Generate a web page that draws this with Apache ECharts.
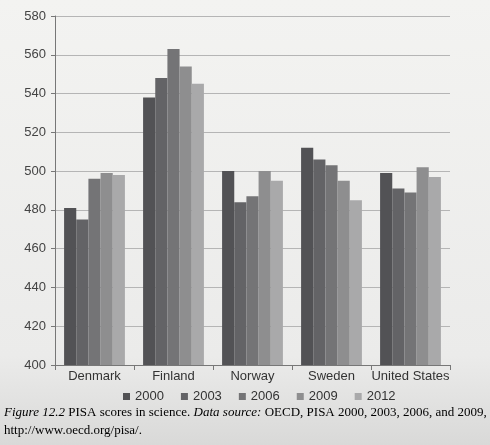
<!DOCTYPE html>
<html>
<head>
<meta charset="utf-8">
<script src="https://cdn.jsdelivr.net/npm/echarts@6/dist/echarts.min.js"></script>
<style>
  html, body { margin: 0; padding: 0; }
  #chart { width: 490px; height: 445px; }
</style>
</head>
<body>
<div id="chart"></div>
<script>
// PISA science scores
const countries = ['Denmark', 'Finland', 'Norway', 'Sweden', 'United States']
const years = ['2000', '2003', '2006', '2009', '2012']
const s2000 = [481, 538, 500, 512, 499]
const s2003 = [475, 548, 484, 506, 491]
const s2006 = [496, 563, 487, 503, 489]
const s2009 = [499, 554, 500, 495, 502]
const s2012 = [498, 545, 495, 485, 497]
const yTicks = [400, 420, 440, 460, 480, 500, 520, 540, 560, 580]

const seriesData = [s2000, s2003, s2006, s2009, s2012]
const shades = ['#525255', '#636366', '#747476', '#8e8e8f', '#a9a9aa']

var chart = echarts.init(document.getElementById('chart'))

chart.setOption({
  backgroundColor: {
    type: 'linear', x: 0, y: 0, x2: 0, y2: 1,
    colorStops: [
      { offset: 0, color: '#f3f3f1' },
      { offset: 0.8, color: '#ebebea' },
      { offset: 1, color: '#d9d9d8' }
    ]
  },
  animation: false,
  textStyle: { fontFamily: 'Liberation Sans' },
  grid: { left: 55, right: 40, top: 16, bottom: 80 },
  legend: {
    data: years,
    bottom: 37,
    left: 118,
    icon: 'rect',
    itemWidth: 7,
    itemHeight: 7,
    itemGap: 17,
    textStyle: { fontSize: 13, color: '#333' }
  },
  xAxis: {
    type: 'category',
    data: countries,
    axisLine: { lineStyle: { color: '#777' } },
    axisTick: { show: true, alignWithLabel: false, lineStyle: { color: '#777' } },
    axisLabel: { color: '#333', fontSize: 13, margin: 5, interval: 0 }
  },
  yAxis: {
    type: 'value',
    min: yTicks[0],
    max: yTicks[yTicks.length - 1],
    interval: 20,
    axisLine: { show: true, lineStyle: { color: '#777' } },
    axisTick: { show: true, length: 4, lineStyle: { color: '#777' } },
    axisLabel: { color: '#444', fontSize: 13, margin: 9 },
    splitLine: { lineStyle: { color: '#b5b5b5' } }
  },
  series: years.map((y, i) => ({
    name: y,
    type: 'bar',
    data: seriesData[i],
    barGap: '0%',
    barCategoryGap: '23%',
    itemStyle: { color: shades[i] }
  })),
  graphic: [
    {
      type: 'text',
      left: 4,
      top: 404,
      style: {
        text: '{i|Figure 12.2} {r|PISA scores in science.} {i|Data source:} {r|OECD, PISA 2000, 2003, 2006, and 2009,}\n{r|http://www.oecd.org/pisa/.}',
        lineHeight: 18,
        rich: {
          i: { fontFamily: 'Liberation Serif', fontStyle: 'italic', fontSize: 13, color: '#333', lineHeight: 18 },
          r: { fontFamily: 'Liberation Serif', fontSize: 13, color: '#333', lineHeight: 18 }
        }
      }
    }
  ]
})
</script>
</body>
</html>
